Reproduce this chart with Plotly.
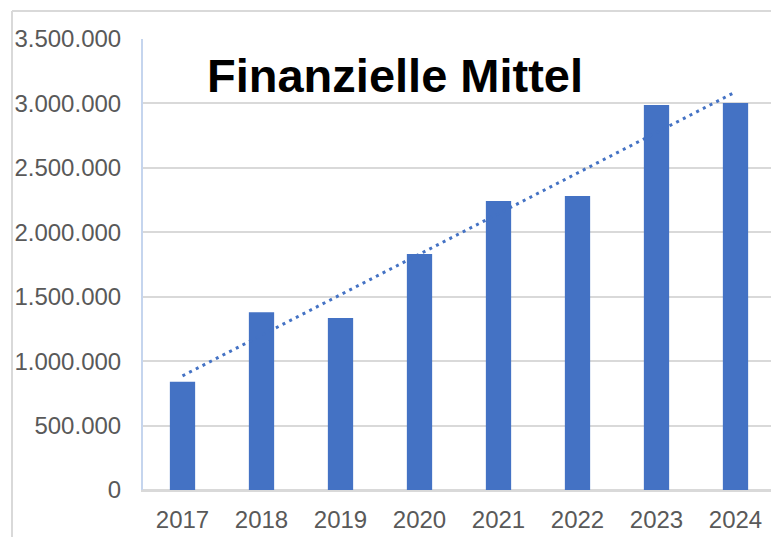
import numpy as np
import plotly.graph_objects as go

years = ["2017", "2018", "2019", "2020", "2021", "2022", "2023", "2024"]
values = [840000, 1379000, 1335000, 1831000, 2243000, 2282000, 2988000, 3003000]
title_text = "Finanzielle Mittel"
y_ticks = [0, 500000, 1000000, 1500000, 2000000, 2500000, 3000000, 3500000]

# linear trend (least squares) from the data
idx = np.arange(len(values))
slope, intercept = np.polyfit(idx, values, 1)
trend = list(slope * idx + intercept)

# page has an 8px body margin; work in page pixel coordinates and convert
OFF = 8
W, H = 779 - OFF, 537 - OFF
L, R, T, B = 143 - OFF, 4, 39 - OFF, 47
pw, ph = W - L - R, H - T - B

def px_x(px):
    return (px - OFF - L) / pw

def px_y(py):
    return (H - B - (py - OFF)) / ph

fig = go.Figure()
fig.add_trace(go.Bar(x=years, y=values, marker=dict(color="#4472c4", line=dict(width=0)),
                     width=0.32, showlegend=False, hoverinfo="skip"))
fig.add_trace(go.Scatter(x=[years[0], years[-1]], y=[trend[0], trend[-1]], mode="lines",
                         line=dict(color="#4472c4", width=3, dash="3px,4.5px"),
                         showlegend=False, hoverinfo="skip"))

fig.update_layout(
    width=W, height=H,
    margin=dict(l=L, r=R, t=T, b=B, pad=0),
    paper_bgcolor="white", plot_bgcolor="white",
    separators=",.",
    font=dict(family="Liberation Sans, Arial, sans-serif", color="#595959", size=24),
    xaxis=dict(type="category", showgrid=False, showline=True, linecolor="#d9d9d9", linewidth=2,
               ticks="", ticklabelstandoff=7, tickfont=dict(size=24, color="#595959"),
               range=[-0.5, 7.5], fixedrange=True, automargin=False),
    yaxis=dict(range=[0, 3500000], tickvals=y_ticks, tickformat=",d", showgrid=True,
               gridcolor="#d9d9d9", gridwidth=1.5, zeroline=True, zerolinecolor="#d9d9d9",
               zerolinewidth=2, showline=True, linecolor="#c5d5ee", linewidth=2,
               ticks="", ticklabelstandoff=15, tickfont=dict(size=24, color="#595959"),
               fixedrange=True, automargin=False),
    annotations=[dict(text="<b>" + title_text + "</b>", x=px_x(395), y=px_y(75.5),
                      xref="paper", yref="paper",
                      xanchor="center", yanchor="middle", showarrow=False,
                      font=dict(family="Liberation Sans, Arial, sans-serif", size=47, color="black"))],
    shapes=[
        dict(type="line", xref="paper", yref="paper", x0=px_x(12), x1=px_x(12), y0=px_y(11), y1=px_y(545),
             line=dict(color="#d9d9d9", width=2)),
        dict(type="line", xref="paper", yref="paper", x0=px_x(12), x1=px_x(790), y0=px_y(11), y1=px_y(11),
             line=dict(color="#d9d9d9", width=2)),
    ],
)

fig.write_html("out.html")
